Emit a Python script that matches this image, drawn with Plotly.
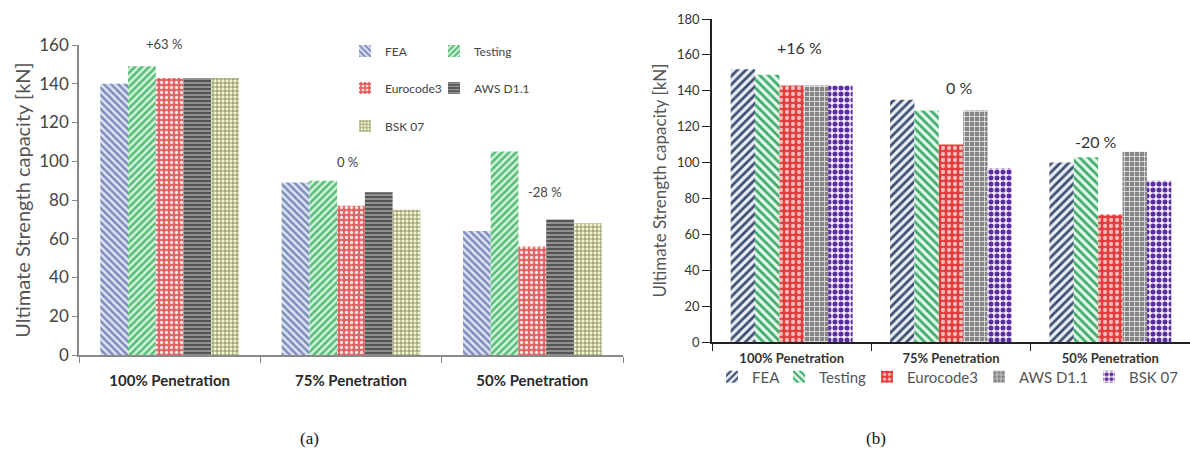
import plotly.graph_objects as go

categories = ["100% Penetration", "75% Penetration", "50% Penetration"]
series_names = ["FEA", "Testing", "Eurocode3", "AWS D1.1", "BSK 07"]

# (a) values [kN]
a_fea = [140, 89, 64]
a_testing = [149, 90, 105]
a_eurocode3 = [143, 77, 56]
a_aws = [143, 84, 70]
a_bsk = [143, 75, 68]

# (b) values [kN]
b_fea = [152, 135, 100]
b_testing = [149, 129, 103]
b_eurocode3 = [143, 110, 71]
b_aws = [143, 129, 106]
b_bsk = [143, 97, 90]

a_diff_labels = ["+63 %", "0 %", "-28 %"]
b_diff_labels = ["+16 %", "0 %", "-20 %"]

W, H = 1190, 464

def px(x):
    return x / W

def py(y):
    return 1 - y / H

a_styles = [
    dict(shape="\\", fg="#7d8dba", bg="#dde4f3", size=5, sol=0.5),
    dict(shape="/", fg="#55bd77", bg="#d6f1dd", size=5, sol=0.5),
    dict(shape=".", fg="#fbe3e3", bg="#e06262", size=5, sol=0.35),
    dict(shape="-", fg="#a9a9a9", bg="#555555", size=4, sol=0.35),
    dict(shape="+", fg="#5d6832", bg="#f4f4d0", size=4, sol=0.3),
]
b_styles = [
    dict(shape="/", fg="#3d4d6e", bg="#e9eef6", size=6, sol=0.45),
    dict(shape="\\", fg="#3aad68", bg="#e5f6eb", size=6, sol=0.45),
    dict(shape=".", fg="#f7b8b8", bg="#e23b3b", size=6, sol=0.4),
    dict(shape="+", fg="#e4e4e4", bg="#858585", size=5, sol=0.3),
    dict(shape=".", fg="#5b2ea0", bg="#f5edfa", size=6, sol=0.55),
]

a_values = [a_fea, a_testing, a_eurocode3, a_aws, a_bsk]
b_values = [b_fea, b_testing, b_eurocode3, b_aws, b_bsk]

fig = go.Figure()

for i, (name, vals, st) in enumerate(zip(series_names, a_values, a_styles)):
    fig.add_trace(go.Bar(
        x=categories, y=vals, name=name, xaxis="x", yaxis="y",
        legend="legend" if i == 0 else f"legend{i + 1}",
        marker=dict(color=st["bg"], line=dict(width=0),
                    pattern=dict(shape=st["shape"], fgcolor=st["fg"], bgcolor=st["bg"],
                                 size=st["size"], solidity=st["sol"], fillmode="replace")),
        hoverinfo="x+y+name",
    ))

for i, (name, vals, st) in enumerate(zip(series_names, b_values, b_styles)):
    fig.add_trace(go.Bar(
        x=categories, y=vals, name=name, xaxis="x2", yaxis="y2",
        legend=f"legend{i + 6}",
        marker=dict(color=st["bg"], line=dict(width=0),
                    pattern=dict(shape=st["shape"], fgcolor=st["fg"], bgcolor=st["bg"],
                                 size=st["size"], solidity=st["sol"], fillmode="replace")),
        hoverinfo="x+y+name",
    ))

font_main = "Lato, 'Open Sans', sans-serif"

layout = dict(
    width=W, height=H,
    margin=dict(l=0, r=0, t=0, b=0),
    paper_bgcolor="white", plot_bgcolor="white",
    showlegend=True,
    barmode="group", bargap=0.235, bargroupgap=0,
    font=dict(family=font_main, color="#444"),
    xaxis=dict(domain=[px(79), px(623)], anchor="y", type="category",
               showline=True, linecolor="#8a8a8a", linewidth=1.5,
               ticks="outside", tickson="boundaries", ticklen=6, tickcolor="#8a8a8a",
               tickfont=dict(size=15, color="#2a2a2a", family=font_main, weight="bold"),
               ticklabelstandoff=11, showgrid=False, zeroline=False, automargin=False),
    yaxis=dict(domain=[py(355), py(45)], anchor="x", range=[0, 160], dtick=20,
               showline=True, linecolor="#8a8a8a", linewidth=1.5,
               ticks="outside", ticklen=5, tickcolor="#8a8a8a",
               tickfont=dict(size=17, color="#444"),
               showgrid=False, zeroline=False, automargin=False,
               title=dict(text="Ultimate Strength capacity [kN]", font=dict(size=20, color="#555"),
                          standoff=3)),
    xaxis2=dict(domain=[px(712), px(1190)], anchor="y2", type="category",
                showline=True, linecolor="#222", linewidth=1.5,
                ticks="outside", tickson="boundaries", ticklen=7, tickcolor="#222",
                tickfont=dict(size=13, color="#333", family=font_main, weight="bold"),
                ticklabelstandoff=4,
                showgrid=False, zeroline=False, automargin=False),
    yaxis2=dict(domain=[py(342), py(19)], anchor="x2", range=[0, 180], dtick=20,
                showline=True, linecolor="#222", linewidth=1.5,
                ticks="outside", ticklen=8, tickcolor="#222",
                tickfont=dict(size=13, color="#333"),
                showgrid=False, zeroline=False, automargin=False,
                title=dict(text="Ultimate Strength capacity [kN]", font=dict(size=17, color="#555"),
                           standoff=6)),
)

# Legends for (a): two columns, three rows
a_leg_pos = [(345, 51), (434, 51), (345, 88), (434, 88), (345, 126)]
for i, (lx, ly) in enumerate(a_leg_pos):
    key = "legend" if i == 0 else f"legend{i + 1}"
    layout[key] = dict(x=px(lx), y=py(ly), xanchor="left", yanchor="middle",
                       bgcolor="rgba(0,0,0,0)", font=dict(size=12, color="#444"),
                       itemwidth=30)

# Legends for (b): one row under the axis
b_leg_pos = [(712, 377), (779, 377), (867, 377), (979, 377), (1089, 377)]
for i, (lx, ly) in enumerate(b_leg_pos):
    layout[f"legend{i + 6}"] = dict(x=px(lx), y=py(ly), xanchor="left", yanchor="middle",
                                    bgcolor="rgba(0,0,0,0)", font=dict(size=15, color="#555"),
                                    itemwidth=30)

annotations = []
a_ann_pos = [(-0.03, 159, 3), (0.98, 99.5, 0), (2.07, 84, 0)]
for t, (ax, ay, ys) in zip(a_diff_labels, a_ann_pos):
    annotations.append(dict(x=ax, y=ay, yshift=ys, xref="x", yref="y", text=t, showarrow=False,
                            font=dict(size=13, color="#444")))
b_ann_pos = [(0.05, 164), (1.05, 142), (1.91, 111.5)]
for t, (ax, ay) in zip(b_diff_labels, b_ann_pos):
    annotations.append(dict(x=ax, y=ay, xref="x2", yref="y2", text=t, showarrow=False,
                            font=dict(size=16, color="#333")))

serif = "'Liberation Serif', 'DejaVu Serif', serif"
annotations.append(dict(x=px(298), y=py(450), xref="paper", yref="paper", text="(a)",
                        showarrow=False, font=dict(size=17, color="#111", family=serif)))
annotations.append(dict(x=px(888), y=py(450), xref="paper", yref="paper", text="(b)",
                        showarrow=False, font=dict(size=17, color="#111", family=serif)))
layout["annotations"] = annotations

fig.update_layout(**layout)
fig.write_html("out.html")
